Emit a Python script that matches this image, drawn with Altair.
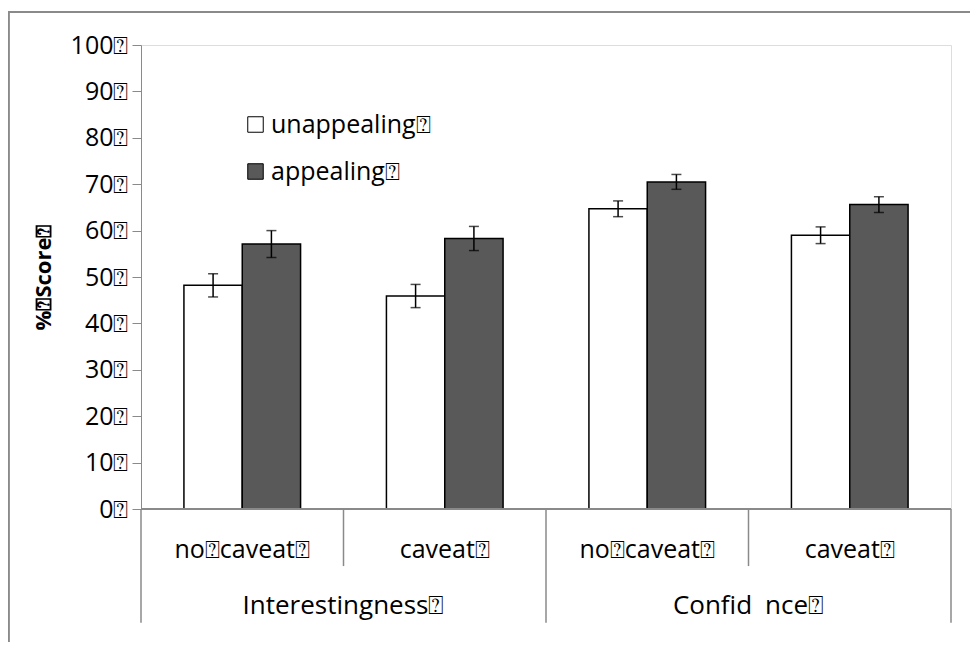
import altair as alt
import pandas as pd

groups = ["Interestingness⍰", "Confid\u2002nce⍰"]
conditions = ["no⍰caveat⍰", "caveat⍰", "no⍰caveat⍰", "caveat⍰"]
slots = ["Interestingness/no caveat", "Interestingness/caveat",
         "Confidence/no caveat", "Confidence/caveat"]
series = ["unappealing⍰", "appealing⍰"]
unappealing = [48.2, 45.9, 64.7, 59.0]
unappealing_err = [2.5, 2.5, 1.7, 1.8]
appealing = [57.1, 58.3, 70.5, 65.6]
appealing_err = [2.9, 2.6, 1.6, 1.7]
y_ticks = [0, 10, 20, 30, 40, 50, 60, 70, 80, 90, 100]

FONT = "Open Sans"
FS = 25
GRAY = "#8a8a8a"

rows = []
for i, s in enumerate(slots):
    for name, vals, errs in ((series[0], unappealing, unappealing_err),
                             (series[1], appealing, appealing_err)):
        rows.append({"slot": s, "series": name, "value": vals[i],
                     "lo": vals[i] - errs[i], "hi": vals[i] + errs[i]})
bars_df = pd.DataFrame(rows)

sub_df = pd.DataFrame({"slot": slots, "label": conditions, "ypos": [-8.8] * 4})
grp_df = pd.DataFrame({"slot": [slots[1], slots[3]], "label": groups, "ypos": [-21.0] * 2})
sep_df = pd.DataFrame({"slot": slots, "bottom": [-24.5, -12.3, -24.5, -12.3]})
end_df = pd.DataFrame({"slot": [slots[3]], "bottom": [-24.5]})

xscale = alt.Scale(domain=slots, paddingInner=0, paddingOuter=0)
yscale = alt.Scale(domain=[0, 100], nice=False, zero=True)
offscale = alt.Scale(domain=series, paddingInner=0, paddingOuter=0.736)

x_enc = alt.X("slot:N", scale=xscale, axis=None)
y_axis = alt.Axis(values=y_ticks, labelExpr="datum.value + '⍰'", tickSize=9,
                  domainColor=GRAY, tickColor=GRAY, labelFontSize=FS,
                  labelColor="black", labelPadding=4, grid=False,
                  title="%⍰Score⍰", titleFontSize=22, titleFontWeight="bold",
                  titleColor="black", titlePadding=15, labelFont=FONT, titleFont=FONT)

bars = alt.Chart(bars_df).mark_bar(stroke="black", strokeWidth=1.5).encode(
    x=x_enc,
    xOffset=alt.XOffset("series:N", scale=offscale),
    y=alt.Y("value:Q", scale=yscale, axis=y_axis),
    color=alt.Color("series:N", scale=alt.Scale(domain=series, range=["white", "#595959"]),
                    legend=alt.Legend(title=None, orient="none", legendX=102, legendY=67,
                                      symbolType="square", symbolSize=240,
                                      symbolStrokeColor="black", symbolStrokeWidth=1,
                                      labelFontSize=FS, labelFont=FONT, labelColor="black",
                                      rowPadding=21, labelOffset=3, padding=0)),
)

err = alt.Chart(bars_df).mark_rule(color="black", strokeWidth=1.5).encode(
    x=x_enc, xOffset=alt.XOffset("series:N", scale=offscale),
    y="lo:Q", y2="hi:Q")
cap_lo = alt.Chart(bars_df).mark_tick(color="black", thickness=1.5, size=10, orient="horizontal").encode(
    x=x_enc, xOffset=alt.XOffset("series:N", scale=offscale), y="lo:Q")
cap_hi = alt.Chart(bars_df).mark_tick(color="black", thickness=1.5, size=10, orient="horizontal").encode(
    x=x_enc, xOffset=alt.XOffset("series:N", scale=offscale), y="hi:Q")

base_line = alt.Chart(bars_df).mark_rule(color=GRAY, strokeWidth=1.5).encode(y=alt.datum(0))

seps = alt.Chart(sep_df).mark_rule(color=GRAY, strokeWidth=1.5).encode(
    x=alt.X("slot:N", scale=xscale, axis=None, bandPosition=0),
    y=alt.Y("bottom:Q"), y2=alt.datum(0))
end_sep = alt.Chart(end_df).mark_rule(color=GRAY, strokeWidth=1.5).encode(
    x=alt.X("slot:N", scale=xscale, axis=None, bandPosition=1),
    y=alt.Y("bottom:Q"), y2=alt.datum(0))

sub_text = alt.Chart(sub_df).mark_text(fontSize=FS, font=FONT, color="black", baseline="middle").encode(
    x=x_enc, y="ypos:Q", text="label:N")
grp_text = alt.Chart(grp_df).mark_text(fontSize=26, font=FONT, color="black", baseline="middle").encode(
    x=alt.X("slot:N", scale=xscale, axis=None, bandPosition=0), y="ypos:Q", text="label:N")

frame_top = alt.Chart(bars_df).mark_rule(color=GRAY, strokeWidth=1.5).encode(
    x=alt.value(-132.5), x2=alt.value(840), y=alt.value(-33))
frame_left = alt.Chart(bars_df).mark_rule(color=GRAY, strokeWidth=1.5).encode(
    x=alt.value(-132.5), y=alt.value(-33), y2=alt.value(610))

chart = alt.layer(frame_top, frame_left, seps, end_sep, bars, err, cap_lo, cap_hi,
                  base_line, sub_text, grp_text).properties(
    width=810, height=464,
    autosize=alt.AutoSizeParams(type="none"),
    padding={"left": 133, "top": 37, "right": 19, "bottom": 133},
).configure_view(stroke=None).configure(font=FONT)

chart.save("out.html", embed_options={"renderer": "svg", "actions": False})
